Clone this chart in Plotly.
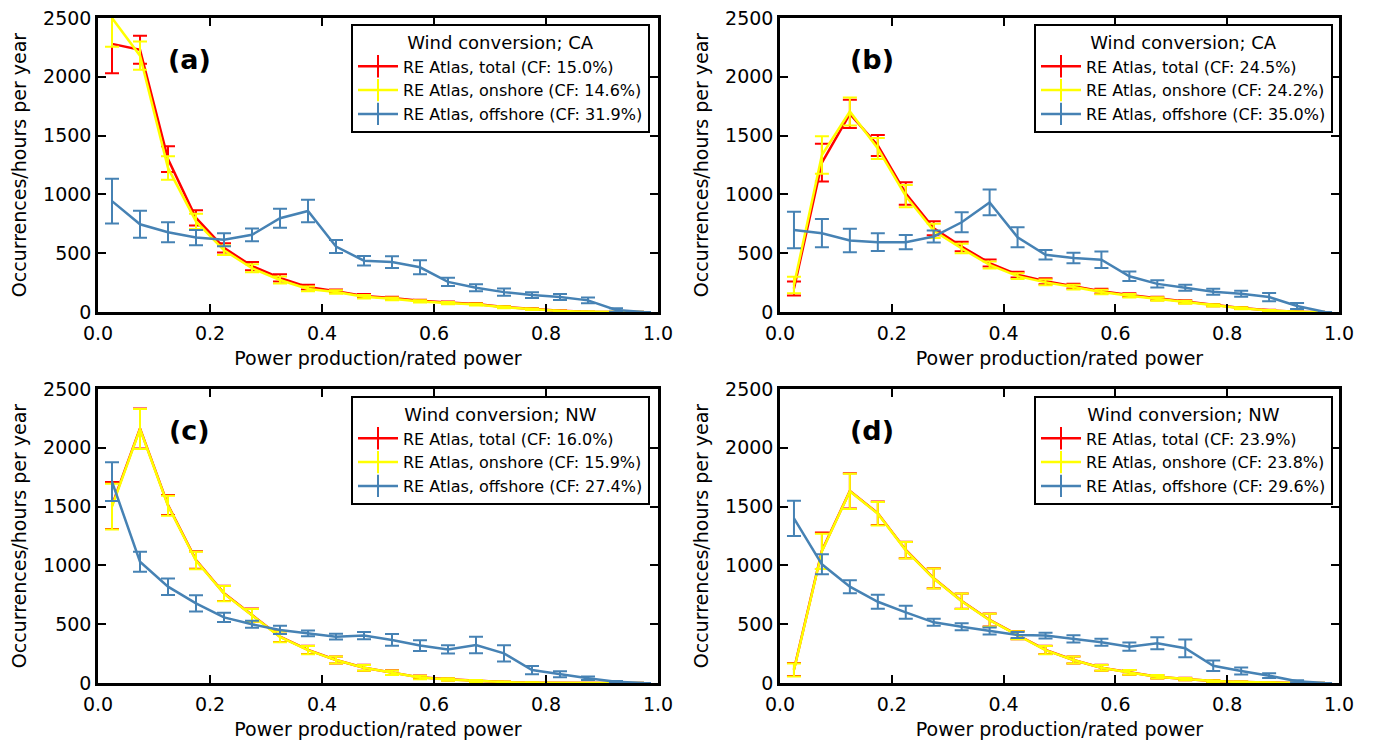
import plotly.graph_objects as go

# ---------------- data ----------------
x_bins = [0.025, 0.075, 0.125, 0.175, 0.225, 0.275, 0.325, 0.375, 0.425, 0.475,
          0.525, 0.575, 0.625, 0.675, 0.725, 0.775, 0.825, 0.875, 0.925, 0.975]

# (a) CA, a
a_total = [2280, 2230, 1300, 800, 545, 390, 290, 212, 177, 137, 118, 95, 80, 68, 42, 26, 10, 3, 0, 0]
a_total_err = [250, 120, 110, 65, 40, 35, 30, 20, 15, 15, 12, 10, 10, 8, 8, 6, 4, 2, 0, 0]
a_on = [2500, 2180, 1225, 770, 525, 372, 272, 196, 170, 130, 112, 90, 76, 64, 40, 24, 9, 3, 0, 0]
a_on_err = [245, 120, 100, 65, 40, 35, 30, 20, 15, 15, 12, 10, 10, 8, 8, 6, 4, 2, 0, 0]
a_off = [943, 746, 678, 633, 614, 656, 797, 859, 557, 436, 425, 380, 256, 206, 169, 144, 127, 99, 17, 0]
a_off_err = [190, 115, 85, 65, 55, 55, 80, 95, 55, 40, 50, 60, 35, 30, 30, 25, 25, 25, 15, 0]

# (b) CA, b
b_total = [200, 1270, 1685, 1416, 1008, 712, 557, 416, 318, 262, 220, 177, 144, 115, 87, 59, 34, 14, 3, 0]
b_total_err = [60, 160, 120, 90, 95, 60, 40, 30, 25, 25, 20, 20, 15, 15, 12, 10, 8, 5, 2, 0]
b_on = [230, 1335, 1705, 1390, 985, 690, 540, 400, 305, 252, 212, 170, 138, 110, 83, 56, 32, 13, 3, 0]
b_on_err = [70, 160, 120, 90, 95, 60, 40, 30, 25, 25, 20, 20, 15, 15, 12, 10, 8, 5, 2, 0]
b_off = [698, 670, 608, 594, 594, 642, 763, 932, 636, 487, 459, 445, 304, 239, 206, 172, 155, 127, 51, 0]
b_off_err = [155, 120, 100, 75, 60, 50, 85, 110, 85, 40, 45, 70, 40, 30, 25, 25, 25, 35, 25, 0]

# (c) NW, a
c_total = [1510, 2165, 1513, 1046, 763, 578, 394, 281, 196, 130, 88, 48, 31, 17, 8, 3, 0, 0, 0, 0]
c_total_err = [200, 170, 85, 75, 65, 55, 45, 35, 30, 25, 20, 15, 10, 8, 5, 3, 0, 0, 0, 0]
c_on = [1500, 2160, 1508, 1042, 760, 575, 392, 279, 195, 129, 87, 47, 30, 17, 8, 3, 0, 0, 0, 0]
c_on_err = [195, 170, 85, 75, 65, 55, 45, 35, 30, 25, 20, 15, 10, 8, 5, 3, 0, 0, 0, 0]
c_off = [1712, 1031, 819, 677, 558, 499, 451, 422, 394, 403, 366, 318, 286, 323, 252, 110, 74, 40, 10, 0]
c_off_err = [165, 85, 70, 70, 40, 30, 35, 25, 25, 30, 50, 45, 35, 70, 70, 35, 25, 15, 8, 0]

# (d) NW, b
d_total = [115, 1125, 1633, 1443, 1131, 890, 697, 536, 408, 281, 196, 130, 91, 54, 34, 17, 8, 2, 0, 0]
d_total_err = [55, 155, 150, 100, 70, 85, 65, 55, 35, 35, 30, 25, 20, 15, 10, 8, 5, 2, 0, 0]
d_on = [110, 1120, 1630, 1440, 1128, 888, 695, 534, 406, 280, 195, 129, 90, 53, 33, 16, 8, 2, 0, 0]
d_on_err = [55, 150, 150, 100, 70, 85, 65, 55, 35, 35, 30, 25, 20, 15, 10, 8, 5, 2, 0, 0]
d_off = [1400, 1009, 819, 691, 601, 516, 479, 442, 408, 403, 375, 346, 309, 338, 295, 147, 102, 62, 14, 0]
d_off_err = [150, 85, 55, 60, 55, 30, 30, 30, 25, 25, 30, 30, 35, 50, 75, 45, 30, 20, 10, 0]

panel_letters = ["(a)", "(b)", "(c)", "(d)"]
legend_titles = ["Wind conversion; CA", "Wind conversion; CA", "Wind conversion; NW", "Wind conversion; NW"]
cf_total = ["15.0%", "24.5%", "16.0%", "23.9%"]
cf_on = ["14.6%", "24.2%", "15.9%", "23.8%"]
cf_off = ["31.9%", "35.0%", "27.4%", "29.6%"]

x_ticks = [0.0, 0.2, 0.4, 0.6, 0.8, 1.0]
y_ticks = [0, 500, 1000, 1500, 2000, 2500]

panels = [
    (a_total, a_total_err, a_on, a_on_err, a_off, a_off_err),
    (b_total, b_total_err, b_on, b_on_err, b_off, b_off_err),
    (c_total, c_total_err, c_on, c_on_err, c_off, c_off_err),
    (d_total, d_total_err, d_on, d_on_err, d_off, d_off_err),
]

# ---------------- styling ----------------
OFF = 8                       # default body margin of the html page
W, H = 1375 - OFF, 747 - OFF  # figure size so that page = 1375x747
RED, YEL, BLUE = "#ff0000", "#ffff00", "#4682b4"
FONT = "DejaVu Sans"

# pixel boxes (page coordinates) of the plotting areas (left, right, top, bottom)
boxes = [(98, 658, 18, 312), (780, 1339, 18, 312), (98, 658, 389, 683), (780, 1339, 389, 683)]
legend_pos = [(650, 24), (1333, 24), (650, 396), (1333, 396)]


def px_x(p):
    return (p - OFF) / W


def px_y(p):
    return 1 - (p - OFF) / H


fig = go.Figure()
layout = dict(
    width=W, height=H,
    margin=dict(l=0, r=0, t=0, b=0),
    paper_bgcolor="white", plot_bgcolor="white",
    font=dict(family=FONT, size=19, color="black"),
    annotations=[],
)

for i, (tot, tot_e, on, on_e, off, off_e) in enumerate(panels):
    n = i + 1
    xa = "x" if n == 1 else f"x{n}"
    ya = "y" if n == 1 else f"y{n}"
    lg = "legend" if n == 1 else f"legend{n}"
    series = [
        (tot, tot_e, RED, f"RE Atlas, total (CF: {cf_total[i]})"),
        (on, on_e, YEL, f"RE Atlas, onshore (CF: {cf_on[i]})"),
        (off, off_e, BLUE, f"RE Atlas, offshore (CF: {cf_off[i]})"),
    ]
    for vals, errs, col, name in series:
        fig.add_trace(go.Scatter(
            x=x_bins, y=vals, mode="lines", xaxis=xa, yaxis=ya,
            line=dict(color=col, width=2.5),
            error_y=dict(type="data", array=errs, visible=True, color=col,
                         thickness=2, width=7),
            showlegend=False, hoverinfo="skip",
        ))
    for vals, errs, col, name in series:
        fig.add_trace(go.Scatter(
            x=[None], y=[None], mode="lines+markers", xaxis=xa, yaxis=ya,
            line=dict(color=col, width=2.5),
            marker=dict(symbol="line-ns-open", size=16, color=col,
                        line=dict(color=col, width=2)),
            name=name, legend=lg, showlegend=True,
        ))

    l, r, t, b = boxes[i]
    axkey = "xaxis" if n == 1 else f"xaxis{n}"
    aykey = "yaxis" if n == 1 else f"yaxis{n}"
    common = dict(showline=True, linewidth=2.5, linecolor="black", mirror="allticks",
                  ticks="inside", ticklen=8, tickwidth=1.5, tickcolor="black",
                  showgrid=False, zeroline=False, automargin=False,
                  ticklabeloverflow="allow",
                  tickfont=dict(family=FONT, size=19, color="black"))
    layout[axkey] = dict(common, domain=[px_x(l), px_x(r)], range=[0, 1],
                         tickvals=x_ticks, tickformat=".1f", anchor=ya,
                         ticklabelstandoff=2,
                         title=dict(text="Power production/rated power",
                                    font=dict(size=19), standoff=10))
    layout[aykey] = dict(common, domain=[px_y(b), px_y(t)], range=[0, 2500],
                         tickvals=y_ticks, anchor=xa,
                         title=dict(text="Occurrences/hours per year",
                                    font=dict(size=19), standoff=12))
    lx, ly = legend_pos[i]
    layout[lg] = dict(
        x=px_x(lx), y=px_y(ly), xanchor="right", yanchor="top",
        bgcolor="white", bordercolor="black", borderwidth=2,
        font=dict(family=FONT, size=16, color="black"),
        title=dict(text=legend_titles[i], side="top center",
                   font=dict(family=FONT, size=18, color="black")),
        itemwidth=40, tracegroupgap=0,
    )
    layout["annotations"].append(dict(
        text=f"<b>{panel_letters[i]}</b>", xref=f"{xa} domain", yref=f"{ya} domain",
        x=0.164, y=0.86, xanchor="center", yanchor="middle", showarrow=False,
        font=dict(family=FONT, size=27, color="black"),
    ))

fig.update_layout(**layout)
fig.write_html("out.html")
